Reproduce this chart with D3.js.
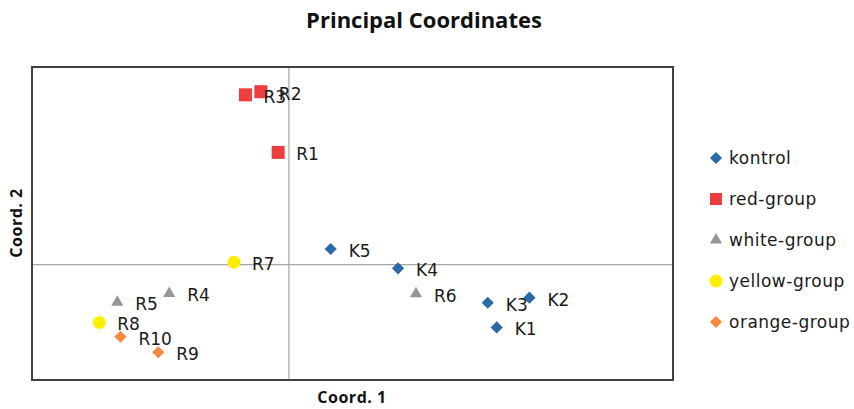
<!DOCTYPE html>
<html><head><meta charset="utf-8">
<script src="https://cdn.jsdelivr.net/npm/d3@7"></script>
<style>body{margin:0;background:#fff}svg{display:block}</style>
</head><body>
<svg id="c" width="854" height="409"></svg>
<script>
const seriesNames = ["kontrol","red-group","white-group","yellow-group","orange-group"];
const seriesColors = ["#2a68a6","#ee3d3d","#979797","#ffee00","#f58a3f"];
const seriesShapes = ["diamond","square","triangle","circle","diamond"];
const kontrolLabels = ["K1","K2","K3","K4","K5"];
const kontrolX = [0.325,0.376,0.311,0.171,0.066];
const kontrolY = [-0.164,-0.087,-0.100,-0.011,0.039];
const redLabels = ["R1","R2","R3"];
const redX = [-0.016,-0.043,-0.067];
const redY = [0.289,0.446,0.438];
const whiteLabels = ["R4","R5","R6"];
const whiteX = [-0.186,-0.267,0.199];
const whiteY = [-0.076,-0.099,-0.077];
const yellowLabels = ["R7","R8"];
const yellowX = [-0.085,-0.295];
const yellowY = [0.005,-0.151];
const orangeLabels = ["R9","R10"];
const orangeX = [-0.203,-0.262];
const orangeY = [-0.228,-0.188];
const xDomain = [-0.4,0.6];
const yDomain = [-0.3,0.51];

const series = [
  {labels:kontrolLabels,x:kontrolX,y:kontrolY},
  {labels:redLabels,x:redX,y:redY},
  {labels:whiteLabels,x:whiteX,y:whiteY},
  {labels:yellowLabels,x:yellowX,y:yellowY},
  {labels:orangeLabels,x:orangeX,y:orangeY}
];

const svg = d3.select("#c");
const L=32,R=673,T=67,B=380;
const x = d3.scaleLinear().domain(xDomain).range([L,R]);
const y = d3.scaleLinear().domain(yDomain).range([B,T]);

function symPath(shape){
  if(shape==="square") return d3.symbol(d3.symbolSquare,169)();
  if(shape==="diamond") return d3.symbol(d3.symbolSquare,74)();
  if(shape==="triangle") return d3.symbol(d3.symbolTriangle,64)();
  return d3.symbol(d3.symbolCircle,133)();
}
function symTransform(shape,px,py){
  return `translate(${px},${py})` + (shape==="diamond"?" rotate(45)":"");
}

svg.append("g").attr("transform",`translate(0,${y(0)})`)
  .call(d3.axisBottom(x).tickValues([]).tickSizeOuter(0))
  .call(g=>g.select(".domain").attr("stroke","#a6a6a6").attr("stroke-width",1.2));
svg.append("g").attr("transform",`translate(${x(0)},0)`)
  .call(d3.axisLeft(y).tickValues([]).tickSizeOuter(0))
  .call(g=>g.select(".domain").attr("stroke","#a6a6a6").attr("stroke-width",1.2));

svg.append("rect").attr("x",L).attr("y",T).attr("width",R-L).attr("height",B-T)
  .attr("fill","none").attr("stroke","#404040").attr("stroke-width",2);

const labelFont = "DejaVu Sans, Verdana, sans-serif";
series.forEach((s,i)=>{
  const g = svg.append("g");
  s.x.forEach((xv,j)=>{
    const px=x(xv), py=y(s.y[j]);
    g.append("path").attr("d",symPath(seriesShapes[i]))
      .attr("transform",symTransform(seriesShapes[i],px,py))
      .attr("fill",seriesColors[i]);
  });
});
series.forEach((s,i)=>{
  s.x.forEach((xv,j)=>{
    const px=x(xv), py=y(s.y[j]);
    svg.append("text").attr("x",px+18).attr("y",py+8)
      .attr("font-family",labelFont).attr("font-size",17)
      .attr("fill","#1a1a1a").text(s.labels[j]);
  });
});

const legY0=158, legStep=41;
seriesNames.forEach((n,i)=>{
  const ly = legY0+i*legStep;
  const sh = seriesShapes[i];
  let p = sh==="square"? d3.symbol(d3.symbolSquare,144)() : symPath(sh);
  svg.append("path").attr("d",p).attr("transform",symTransform(sh,716,ly)).attr("fill",seriesColors[i]);
  svg.append("text").attr("x",729).attr("y",ly+6).attr("font-family",labelFont)
    .attr("font-size",17).attr("letter-spacing",0.5).attr("fill","#1a1a1a").text(n);
});

svg.append("text").attr("x",424).attr("y",28).attr("text-anchor","middle")
  .attr("font-family","Open Sans, sans-serif").attr("font-weight","bold").attr("font-size",22)
  .attr("fill","#111").text("Principal Coordinates");
svg.append("text").attr("x",352).attr("y",403).attr("text-anchor","middle")
  .attr("font-family","Open Sans, sans-serif").attr("font-weight","bold").attr("font-size",16)
  .attr("letter-spacing",0.5).attr("fill","#111").text("Coord. 1");
svg.append("text").attr("transform","translate(22,223) rotate(-90)").attr("text-anchor","middle")
  .attr("font-family","Open Sans, sans-serif").attr("font-weight","bold").attr("font-size",16)
  .attr("letter-spacing",0.5).attr("fill","#111").text("Coord. 2");
</script>
</body></html>
